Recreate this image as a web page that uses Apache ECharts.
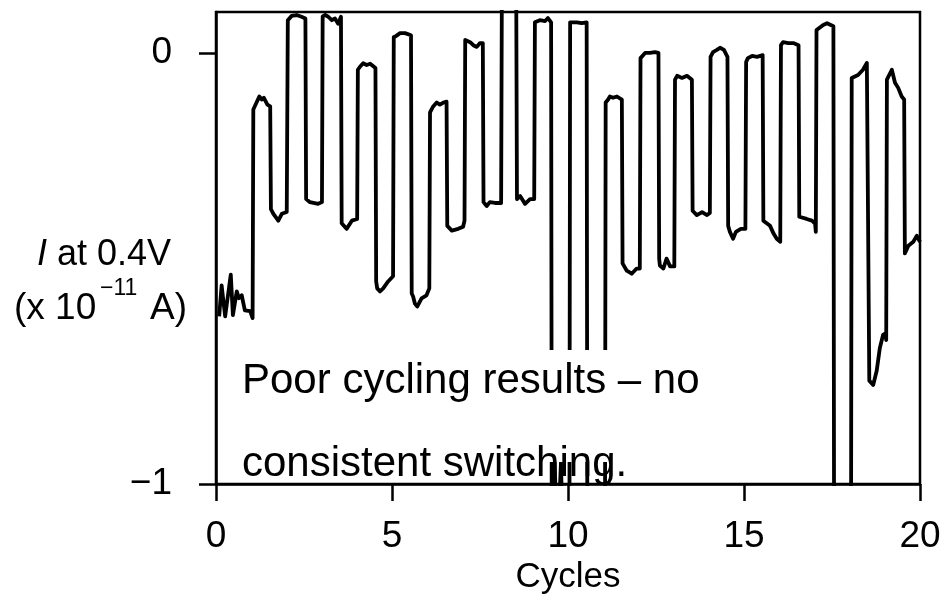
<!DOCTYPE html>
<html>
<head>
<meta charset="utf-8">
<title>Cycling</title>
<script src="https://cdn.jsdelivr.net/npm/echarts@6.0.0/dist/echarts.min.js"></script>
<style>
  html, body { margin: 0; padding: 0; background: #fff; }
  #chart { width: 944px; height: 600px; }
</style>
</head>
<body>
<div id="chart"></div>
<script>
// x values (cycles)
const cycles = [
  0.09, 0.16, 0.26, 0.42, 0.48, 0.59, 0.65, 0.73, 0.82, 0.97, 1.04,
  1.06, 1.11, 1.23, 1.30, 1.36, 1.46, 1.54,
  1.56, 1.63, 1.77, 1.87, 2.01,
  2.04, 2.15, 2.29, 2.43, 2.54,
  2.56, 2.67, 2.90, 3.01,
  3.03, 3.10, 3.19, 3.29, 3.38, 3.47, 3.55,
  3.57, 3.71, 3.86, 4.01,
  4.03, 4.09, 4.18, 4.28, 4.38, 4.53,
  4.55, 4.58, 4.66, 4.75, 4.89, 5.03,
  5.05, 5.11, 5.23, 5.37, 5.54,
  5.56, 5.60, 5.65, 5.72, 5.84, 5.98, 6.06,
  6.08, 6.17, 6.27, 6.36, 6.46, 6.55,
  6.57, 6.70, 6.88, 7.02, 7.06,
  7.08, 7.12, 7.22, 7.31, 7.41, 7.50, 7.58,
  7.60, 7.69, 7.78, 7.93, 8.10,
  8.12, 8.53,
  8.55, 8.64, 8.78, 8.92, 9.04,
  9.06, 9.11, 9.20, 9.35, 9.43, 9.52,
  9.54, 9.62, 9.70, 9.80, 9.86, 10.04,
  10.06, 10.11, 10.25, 10.39, 10.53,
  10.55, 11.05,
  11.07, 11.14, 11.19, 11.28, 11.39, 11.53,
  11.55, 11.67, 11.81, 11.95, 12.04,
  12.06, 12.09, 12.19, 12.33, 12.47, 12.57,
  12.59, 12.61, 12.71, 12.80, 12.90, 13.02,
  13.04, 13.10, 13.24, 13.38, 13.52,
  13.54, 13.66, 13.81, 13.95, 14.03,
  14.05, 14.12, 14.23, 14.32, 14.43, 14.53,
  14.55, 14.60, 14.69, 14.77, 14.91, 15.04,
  15.06, 15.11, 15.23, 15.37, 15.53,
  15.55, 15.60, 15.74, 15.84, 15.93, 16.03,
  16.05, 16.11, 16.26, 16.40, 16.55,
  16.57, 16.78, 16.93, 17.02, 17.04,
  17.06, 17.10, 17.25, 17.36, 17.54,
  17.56, 18.04,
  18.06, 18.10, 18.24, 18.38, 18.49, 18.54,
  18.56, 18.67, 18.77, 18.86, 18.95, 19.03, 19.04,
  19.06, 19.10, 19.20, 19.29, 19.38, 19.48, 19.55,
  19.57, 19.67, 19.81, 19.91, 20.00
];

// current at 0.4V (x 1e-11 A)
const current = [
  -0.611, -0.539, -0.611, -0.514, -0.608, -0.553, -0.569, -0.562, -0.597, -0.599, -0.615,
  -0.131, -0.131, -0.101, -0.108, -0.104, -0.120, -0.124,
  -0.362, -0.373, -0.389, -0.373, -0.369,
  0.076, 0.086, 0.088, 0.084, 0.080,
  -0.339, -0.346, -0.350, -0.346,
  0.085, 0.088, 0.084, 0.076, 0.080, 0.068, 0.084,
  -0.395, -0.408, -0.389, -0.385,
  -0.039, -0.032, -0.024, -0.028, -0.025, -0.035,
  -0.530, -0.546, -0.553, -0.546, -0.530, -0.518,
  0.037, 0.039, 0.046, 0.046, 0.041,
  -0.558, -0.565, -0.581, -0.588, -0.569, -0.562, -0.546,
  -0.138, -0.124, -0.115, -0.120, -0.115, -0.113,
  -0.401, -0.412, -0.408, -0.403, -0.389,
  0.030, 0.030, 0.025, 0.018, 0.014, 0.023, 0.023,
  -0.346, -0.355, -0.346, -0.348, -0.348,
  0.12, 0.12,
  -0.339, -0.332, -0.350, -0.339, -0.339,
  0.071, 0.069, 0.076, 0.074, 0.081, 0.071,
  -1.15, -0.95, -1.15, -0.95, -1.15, -1.15,
  0.071, 0.071, 0.071, 0.069, 0.071,
  -1.15, -1.15,
  -0.115, -0.108, -0.101, -0.104, -0.101, -0.108,
  -0.488, -0.505, -0.512, -0.500, -0.500,
  -0.012, -0.012, 0.000, 0.000, 0.002, 0.000,
  -0.477, -0.493, -0.500, -0.477, -0.495, -0.495,
  -0.062, -0.053, -0.058, -0.053, -0.062,
  -0.366, -0.376, -0.369, -0.376, -0.371,
  -0.009, 0.002, 0.007, 0.012, 0.007, -0.009,
  -0.401, -0.415, -0.431, -0.415, -0.408, -0.408,
  -0.021, -0.012, -0.007, -0.009, -0.005,
  -0.389, -0.389, -0.401, -0.419, -0.431, -0.438,
  0.018, 0.025, 0.023, 0.023, 0.018,
  -0.380, -0.385, -0.389, -0.396, -0.415,
  0.053, 0.053, 0.065, 0.069, 0.062,
  -1.15, -1.15,
  -0.058, -0.058, -0.051, -0.039, -0.023, -0.023,
  -0.760, -0.770, -0.737, -0.684, -0.654, -0.650, -0.666,
  -0.062, -0.062, -0.039, -0.069, -0.081, -0.101, -0.108,
  -0.465, -0.447, -0.438, -0.424, -0.438
];

const xTicks = [0, 5, 10, 15, 20];
const yTicks = [-1, 0];
const yTickLabels = ['\u22121', '0'];

const font = 'Liberation Sans, Arial, sans-serif';

const chart = echarts.init(document.getElementById('chart'));

const option = {
  animation: false,
  grid: {
    left: 216,
    right: 24,
    top: 12,
    bottom: 113,
    show: true,
    borderColor: '#000',
    borderWidth: 2.5
  },
  xAxis: {
    type: 'value',
    min: 0,
    max: 20,
    interval: 5,
    name: 'Cycles',
    nameLocation: 'middle',
    nameGap: 74,
    nameTextStyle: { color: '#000', fontSize: 35, fontFamily: font },
    axisLine: { onZero: false, lineStyle: { color: '#000', width: 2.5 } },
    axisTick: { show: true, inside: false, length: 17, customValues: xTicks, lineStyle: { color: '#000', width: 2.5 } },
    axisLabel: { customValues: xTicks, margin: 34, color: '#000', fontSize: 37, fontFamily: font },
    splitLine: { show: false }
  },
  yAxis: {
    type: 'value',
    min: -1,
    max: 0.095,
    axisLine: { show: true, onZero: false, lineStyle: { color: '#000', width: 2.5 } },
    axisTick: { show: true, inside: false, length: 17, customValues: yTicks, lineStyle: { color: '#000', width: 2.5 } },
    axisLabel: {
      customValues: yTicks,
      margin: 44,
      color: '#000',
      fontSize: 37,
      fontFamily: font,
      formatter: (v) => yTickLabels[yTicks.indexOf(Math.round(v))]
    },
    splitLine: { show: false }
  },
  series: [
    {
      type: 'line',
      data: cycles.map((c, i) => [c, current[i]]),
      showSymbol: false,
      clip: true,
      lineStyle: { color: '#000', width: 3.8, join: 'round' }
    }
  ],
  graphic: [
    // white box behind the note
    { type: 'rect', z: 100, shape: { x: 236, y: 350, width: 484, height: 112 }, style: { fill: '#fff' } },
    { type: 'text', z: 101, x: 242, y: 360, style: { text: 'Poor cycling results \u2013 no', fill: '#000', font: '42px ' + font } },
    { type: 'text', z: 101, x: 242, y: 443, style: { text: 'consistent switching.', fill: '#000', font: '42px ' + font } },
    // y axis title
    {
      type: 'text', z: 101, x: 37, y: 237,
      style: {
        text: '{it|I} at 0.4V',
        fill: '#000',
        font: '36px ' + font,
        rich: { it: { fontStyle: 'italic', fontSize: 36, fontFamily: font } }
      }
    },
    { type: 'text', z: 101, x: 14, y: 290, style: { text: '(x 10', fill: '#000', font: '37px ' + font } },
    { type: 'text', z: 101, x: 100, y: 277, style: { text: '\u221211', fill: '#000', font: '23px ' + font } },
    { type: 'text', z: 101, x: 150, y: 290, style: { text: 'A)', fill: '#000', font: '37px ' + font } }
  ]
};

chart.setOption(option);
</script>
</body>
</html>
